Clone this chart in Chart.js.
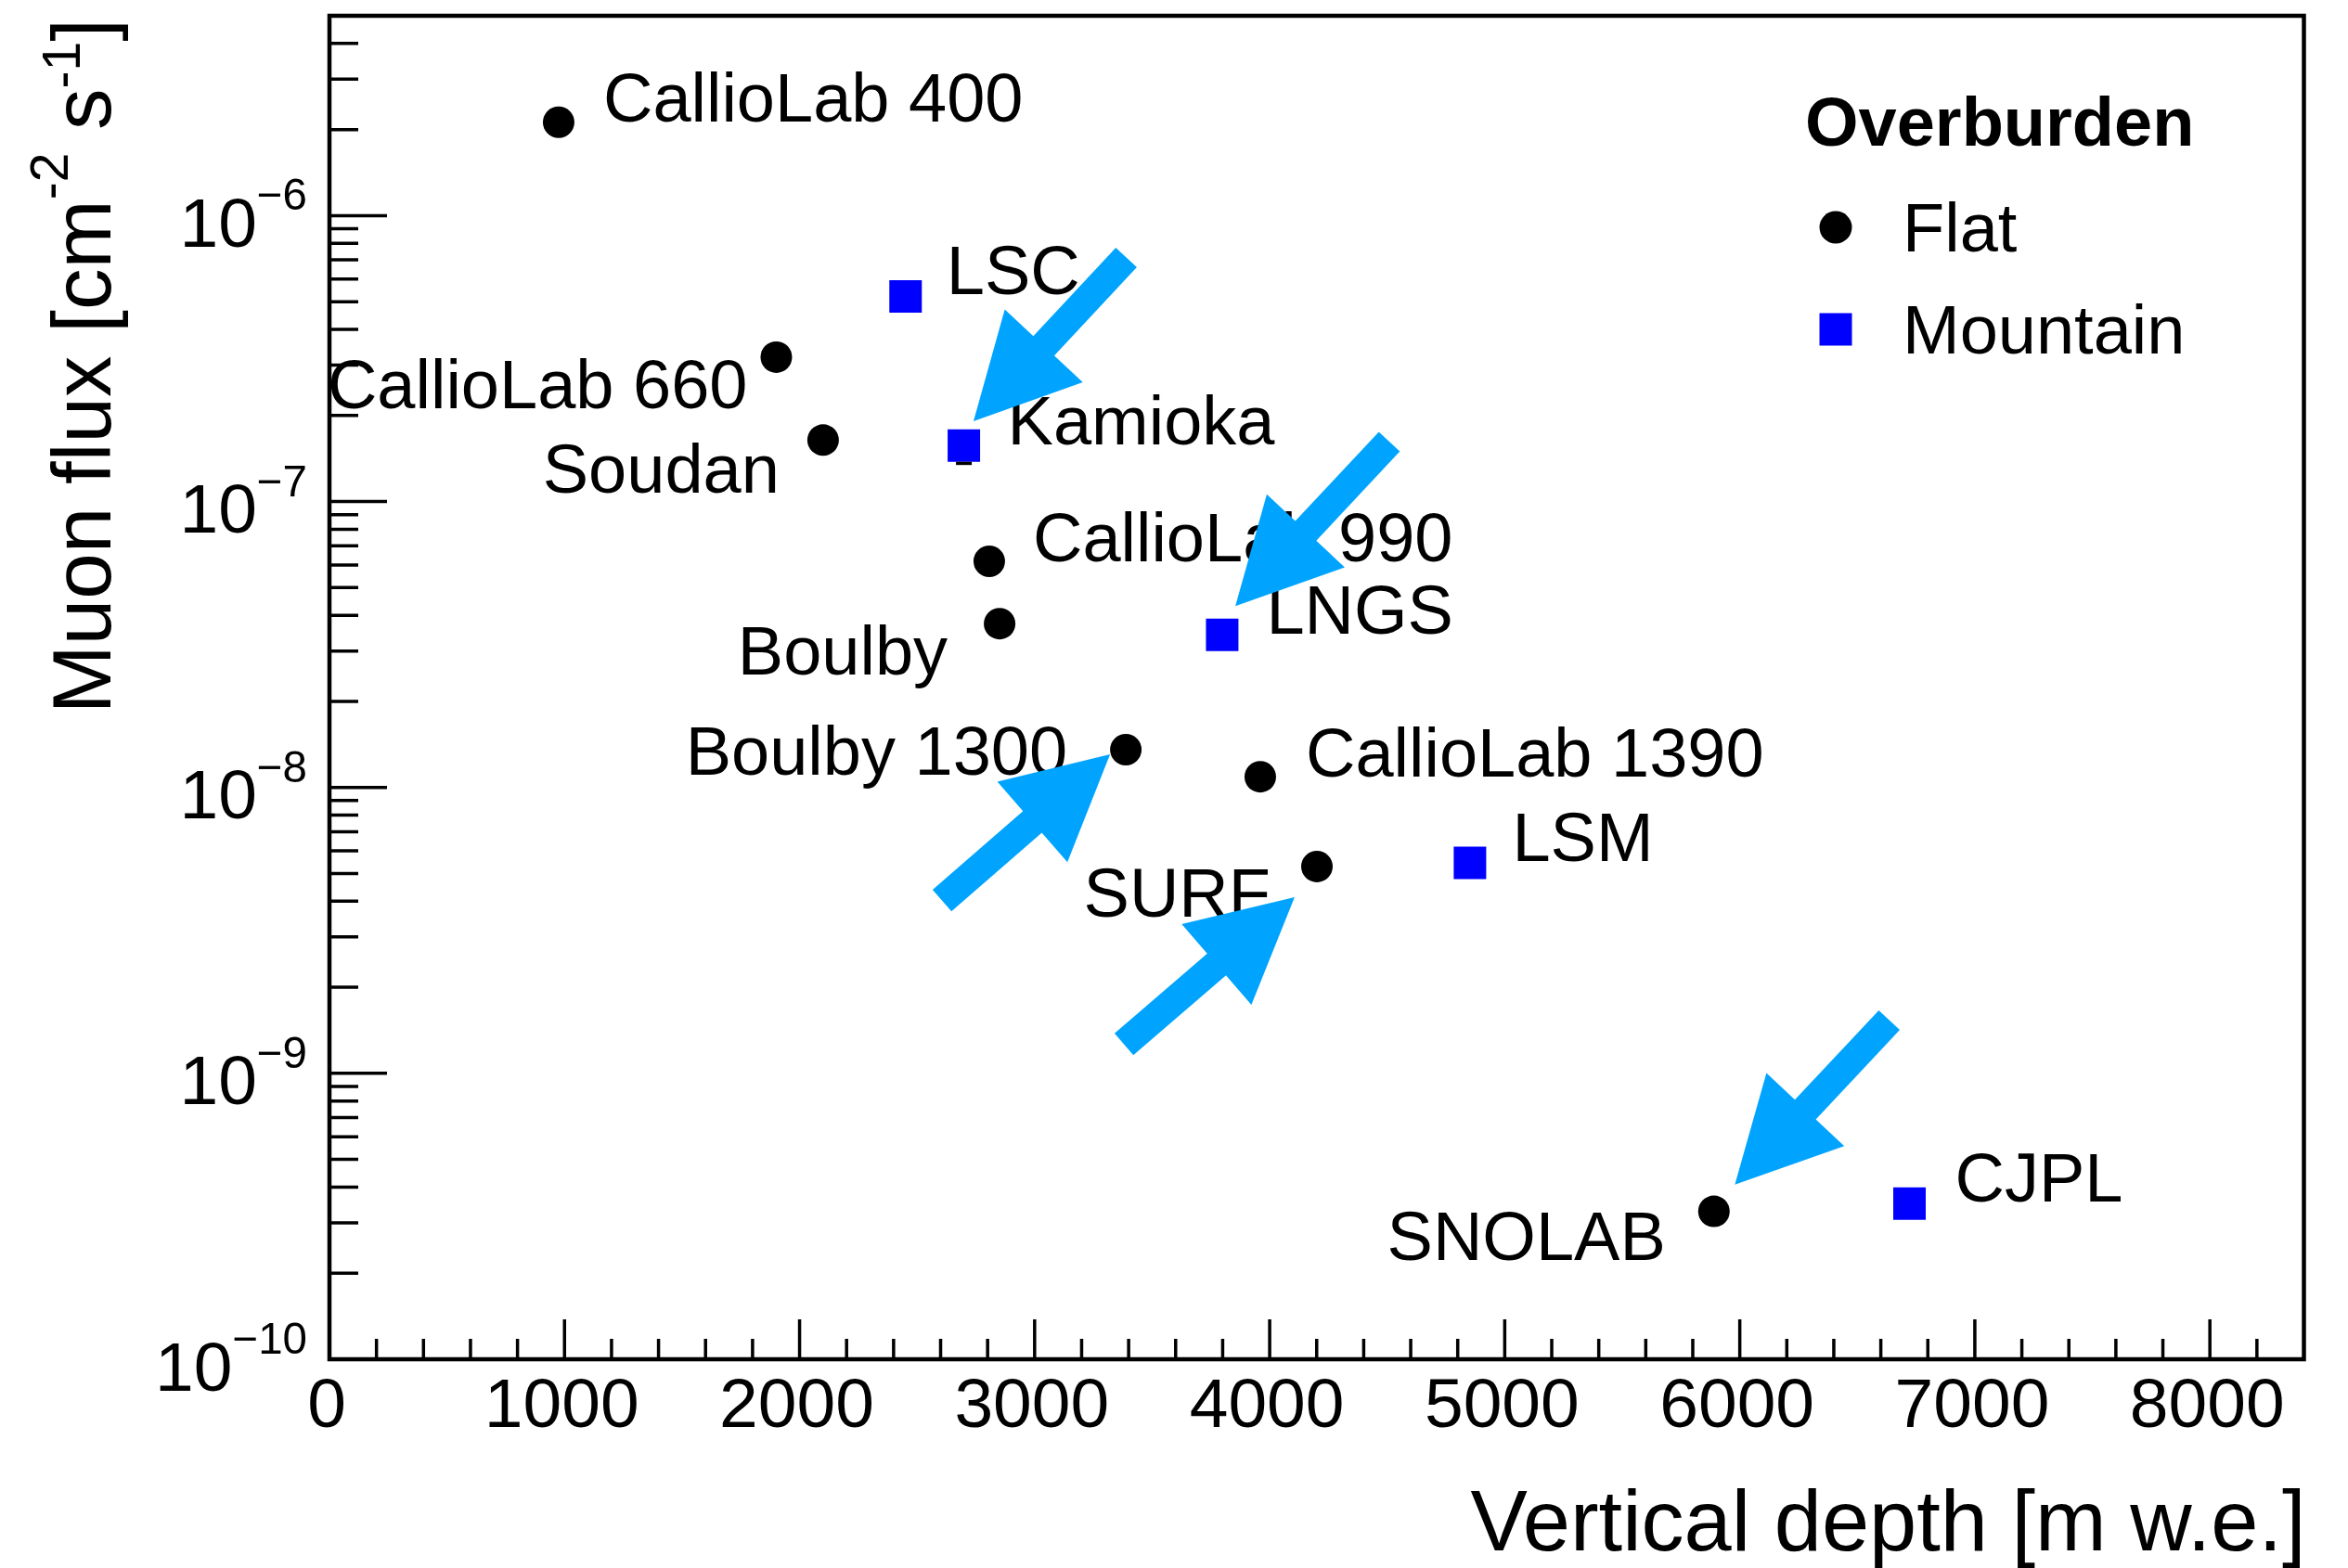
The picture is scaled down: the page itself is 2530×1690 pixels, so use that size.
<!DOCTYPE html>
<html>
<head>
<meta charset="utf-8">
<script src="https://cdn.jsdelivr.net/npm/chart.js@4.4.1/dist/chart.umd.min.js"></script>
<style>
html,body{margin:0;padding:0;background:#ffffff;}
#wrap{width:2530px;height:1690px;position:relative;}
canvas{display:block;}
</style>
</head>
<body>
<div id="wrap"><canvas id="c" width="2530" height="1690"></canvas></div>
<script>
// ---------------- data ----------------
const flatNames = ['CallioLab 400','CallioLab 660','Soudan','CallioLab 990','Boulby','Boulby 1300','CallioLab 1390','SURF','SNOLAB'];
const flatDepth = [975, 1901, 2100, 2807, 2851, 3388, 3960, 4201, 5890];
const flatFlux  = [2.12e-6, 3.20e-7, 1.64e-7, 6.18e-8, 3.74e-8, 1.355e-8, 1.09e-8, 5.29e-9, 3.29e-10];

const mountainNames = ['LSC','Kamioka','LNGS','LSM','CJPL'];
const mountainDepth = [2451, 2699, 3798, 4852, 6722];
const mountainFlux  = [5.22e-7, 1.57e-7, 3.42e-8, 5.45e-9, 3.50e-10];

const xTickValues = [0, 1000, 2000, 3000, 4000, 5000, 6000, 7000, 8000];
const yDecadeExponents = [-10, -9, -8, -7, -6];

// arrows (data coordinates: from tail to tip)
const arrowFromDepth = [3390, 4509, 2606, 3380, 6636];
const arrowFromFlux  = [7.14e-7, 1.62e-7, 4.02e-9, 1.264e-9, 1.535e-9];
const arrowToDepth   = [2740, 3854, 3321, 4106, 5979];
const arrowToFlux    = [1.91e-7, 4.31e-8, 1.305e-8, 4.13e-9, 4.08e-10];

// ---------------- styles ----------------
const FONT = '"Liberation Sans", Arial, Helvetica, sans-serif';
const flatLabelStyle = [
  {align:'left',  dx: 48, dy: -1},
  {align:'right', dx:-31, dy: 55},
  {align:'right', dx:-47, dy: 57},
  {align:'left',  dx: 47, dy:  0},
  {align:'right', dx:-56, dy: 55},
  {align:'right', dx:-63, dy: 27},
  {align:'left',  dx: 49, dy:  0},
  {align:'right', dx:-50, dy: 54},
  {align:'right', dx:-52, dy: 52}
];
const mountainLabelStyle = [
  {align:'left', dx: 44,   dy: -2},
  {align:'left', dx: 47,   dy: -1},
  {align:'left', dx: 47.5, dy: -1},
  {align:'left', dx: 45.5, dy: -2},
  {align:'left', dx: 49,   dy: -2.5}
];
const ARROW_COLOR = 'rgb(0,164,255)';

const rootPlugin = {
  id: 'rootStyle',
  afterDatasetsDraw(chart) {
    const ctx = chart.ctx;
    const xs = chart.scales.x, ys = chart.scales.y;
    const a = chart.chartArea;
    ctx.save();

    // point labels
    ctx.fillStyle = '#000';
    ctx.font = '74px ' + FONT;
    ctx.textBaseline = 'alphabetic';
    const drawLabels = (names, dx, fy, st) => {
      names.forEach((n, i) => {
        const px = xs.getPixelForValue(dx[i]);
        const py = ys.getPixelForValue(fy[i]);
        ctx.textAlign = st[i].align;
        ctx.fillText(n, px + st[i].dx, py + st[i].dy);
      });
    };
    drawLabels(flatNames, flatDepth, flatFlux, flatLabelStyle);
    drawLabels(mountainNames, mountainDepth, mountainFlux, mountainLabelStyle);

    // small error-bar cap peeking under the Kamioka marker
    {
      const px = xs.getPixelForValue(mountainDepth[1]);
      const py = ys.getPixelForValue(mountainFlux[1]);
      ctx.fillStyle = '#000';
      ctx.fillRect(px - 8.5, py + 17.5, 17, 3.5);
    }

    // arrows
    ctx.fillStyle = ARROW_COLOR;
    const shaftW = 31, headL = 111, headW = 115;
    for (let i = 0; i < arrowFromDepth.length; i++) {
      const x0 = xs.getPixelForValue(arrowFromDepth[i]);
      const y0 = ys.getPixelForValue(arrowFromFlux[i]);
      const x1 = xs.getPixelForValue(arrowToDepth[i]);
      const y1 = ys.getPixelForValue(arrowToFlux[i]);
      const L = Math.hypot(x1 - x0, y1 - y0);
      const ux = (x1 - x0) / L, uy = (y1 - y0) / L;
      const nx = -uy, ny = ux;
      const bx = x1 - ux * headL, by = y1 - uy * headL;
      ctx.beginPath();
      ctx.moveTo(x0 + nx * shaftW / 2, y0 + ny * shaftW / 2);
      ctx.lineTo(bx + nx * shaftW / 2 + ux * 2, by + ny * shaftW / 2 + uy * 2);
      ctx.lineTo(bx - nx * shaftW / 2 + ux * 2, by - ny * shaftW / 2 + uy * 2);
      ctx.lineTo(x0 - nx * shaftW / 2, y0 - ny * shaftW / 2);
      ctx.closePath();
      ctx.fill();
      ctx.beginPath();
      ctx.moveTo(x1, y1);
      ctx.lineTo(bx + nx * headW / 2, by + ny * headW / 2);
      ctx.lineTo(bx - nx * headW / 2, by - ny * headW / 2);
      ctx.closePath();
      ctx.fill();
    }

    // frame
    ctx.strokeStyle = '#000';
    ctx.lineWidth = 4.5;
    ctx.strokeRect(a.left, a.top, a.right - a.left, a.bottom - a.top);

    // x ticks (inward)
    ctx.lineWidth = 3.5;
    ctx.beginPath();
    for (let v = 200; v < xs.max; v += 200) {
      const px = xs.getPixelForValue(v);
      const len = (v % 1000 === 0) ? 43 : 22;
      ctx.moveTo(px, a.bottom);
      ctx.lineTo(px, a.bottom - len);
    }
    // y ticks (inward)
    for (const e of yDecadeExponents) {
      for (let k = 1; k <= 9; k++) {
        const v = k * Math.pow(10, e);
        if (v > ys.max * 1.0001 || v < ys.min * 0.9999) continue;
        const py = ys.getPixelForValue(v);
        if (Math.abs(py - a.top) < 2 || Math.abs(py - a.bottom) < 2) {
          if (k !== 1) continue;
        }
        const len = (k === 1) ? 62 : 31;
        ctx.moveTo(a.left, py);
        ctx.lineTo(a.left + len, py);
      }
    }
    ctx.stroke();

    // x tick labels
    ctx.fillStyle = '#000';
    ctx.font = '75px ' + FONT;
    ctx.textAlign = 'center';
    ctx.textBaseline = 'alphabetic';
    xTickValues.forEach(v => {
      ctx.fillText(String(v), xs.getPixelForValue(v) - 3, a.bottom + 73);
    });

    // y tick labels 10^N
    const bigF = '75px ' + FONT, supF = '47.5px ' + FONT;
    ctx.textAlign = 'left';
    yDecadeExponents.forEach(e => {
      const py = ys.getPixelForValue(Math.pow(10, e));
      const sup = '\u2212' + Math.abs(e);
      ctx.font = bigF; const w1 = ctx.measureText('10').width;
      ctx.font = supF; const w2 = ctx.measureText(sup).width;
      const right = 331;
      const x0 = right - w1 - w2;
      const base = py + 33.5;
      ctx.font = bigF; ctx.fillText('10', x0, base);
      ctx.font = supF; ctx.fillText(sup, x0 + w1, base - 39.5);
    });

    // x title
    ctx.font = '92px ' + FONT;
    ctx.textAlign = 'right';
    ctx.fillText('Vertical depth [m w.e.]', a.right + 2, 1671);

    // y title (rotated, with superscripts)
    ctx.save();
    ctx.translate(118.5, 20);
    ctx.rotate(-Math.PI / 2);
    ctx.textAlign = 'left';
    const parts = [
      {t: 'Muon flux [cm', f: '89px ' + FONT, r: 0},
      {t: '-2', f: '57px ' + FONT, r: 46},
      {t: ' s', f: '89px ' + FONT, r: 0},
      {t: '-1', f: '57px ' + FONT, r: 33},
      {t: ']', f: '89px ' + FONT, r: 0}
    ];
    let total = 0;
    parts.forEach(p => { ctx.font = p.f; p.w = ctx.measureText(p.t).width; total += p.w; });
    let cx = -total;
    parts.forEach(p => { ctx.font = p.f; ctx.fillText(p.t, cx, -p.r); cx += p.w; });
    ctx.restore();

    // legend
    const ds = chart.data.datasets;
    ctx.font = 'bold 74px ' + FONT;
    ctx.textAlign = 'left';
    ctx.fillStyle = '#000';
    ctx.fillText('Overburden', 1945, 157);
    ctx.font = '74px ' + FONT;
    const legendRows = [245, 355];
    ds.forEach((d, i) => {
      const cy = legendRows[i];
      ctx.fillStyle = d.backgroundColor;
      ctx.beginPath();
      if (d.pointStyle === 'circle') {
        ctx.arc(1978, cy, d.pointRadius + 0.5, 0, Math.PI * 2);
      } else {
        const s = d.pointRadius * Math.SQRT1_2;
        ctx.rect(1978 - s, cy - s, 2 * s, 2 * s);
      }
      ctx.fill();
      ctx.fillStyle = '#000';
      ctx.fillText(d.label, 2050, cy + 26);
    });

    ctx.restore();
  }
};

const ctx = document.getElementById('c').getContext('2d');
new Chart(ctx, {
  type: 'scatter',
  data: {
    datasets: [
      {
        label: 'Flat',
        data: flatDepth.map((x, i) => ({x: x, y: flatFlux[i]})),
        pointStyle: 'circle',
        pointRadius: 17,
        pointHoverRadius: 17,
        backgroundColor: '#000000',
        borderColor: '#000000',
        borderWidth: 0
      },
      {
        label: 'Mountain',
        data: mountainDepth.map((x, i) => ({x: x, y: mountainFlux[i]})),
        pointStyle: 'rect',
        pointRadius: 24.75,
        pointHoverRadius: 24.75,
        backgroundColor: '#0000ff',
        borderColor: '#0000ff',
        borderWidth: 0
      }
    ]
  },
  options: {
    responsive: false,
    maintainAspectRatio: false,
    animation: false,
    devicePixelRatio: 1,
    events: [],
    layout: {autoPadding: false, padding: {left: 355, right: 47.5, top: 17, bottom: 225}},
    plugins: {legend: {display: false}, tooltip: {enabled: false}},
    scales: {
      x: {type: 'linear', min: 0, max: 8400, display: false},
      y: {type: 'logarithmic', min: 1e-10, max: 5e-6, display: false}
    }
  },
  plugins: [rootPlugin]
});
</script>
</body>
</html>
